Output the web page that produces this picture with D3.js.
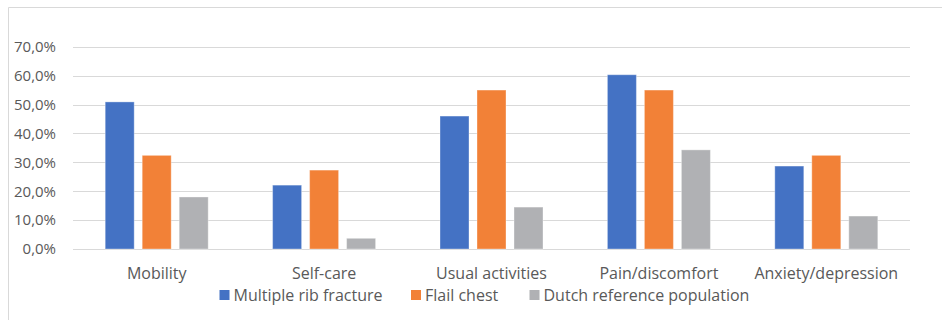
<!DOCTYPE html>
<html>
<head>
<meta charset="utf-8">
<script src="https://cdn.jsdelivr.net/npm/d3@7"></script>
<style>
  html, body { margin: 0; padding: 0; background: #fff; }
  svg { display: block; font-family: "Open Sans", sans-serif; }
</style>
</head>
<body>
<svg id="chart" width="942" height="320"></svg>
<script>
// EQ-5D dimensions: share of respondents reporting problems
const categories = ["Mobility", "Self-care", "Usual activities", "Pain/discomfort", "Anxiety/depression"];
const seriesNames = ["Multiple rib fracture", "Flail chest", "Dutch reference population"];
const multipleRibFracture = [50.9, 22.1, 46.0, 60.3, 28.7];
const flailChest = [32.4, 27.3, 55.0, 55.0, 32.4];
const dutchReference = [18.0, 3.7, 14.5, 34.3, 11.4];
const yTicks = [0, 10, 20, 30, 40, 50, 60, 70];
const colors = ["#4472C4", "#F28137", "#B0B1B4"];

const seriesValues = [multipleRibFracture, flailChest, dutchReference];

const svg = d3.select("#chart");
const W = 942, H = 320;
const plot = { left: 73, right: 910, top: 46.7, bottom: 249 };

// chart frame (only top and left edges fall inside the view)
svg.append("path")
  .attr("d", `M8.5,${H} V7.5 H${W}`)
  .attr("fill", "none")
  .attr("stroke", "#d9d9d9")
  .attr("stroke-width", 1);

const x0 = d3.scaleBand()
  .domain(categories)
  .range([plot.left, plot.right])
  .paddingInner(0)
  .paddingOuter(0);

const barW = 29, gap = 8;
const groupW = barW * 3 + gap * 2;
const x1 = d3.scaleBand()
  .domain(seriesNames)
  .range([0, groupW])
  .paddingInner(gap / (barW + gap))
  .paddingOuter(0);

const y = d3.scaleLinear().domain([0, 70]).range([plot.bottom, plot.top]);

// horizontal gridlines
svg.append("g")
  .selectAll("line")
  .data(yTicks)
  .join("line")
  .attr("x1", plot.left)
  .attr("x2", plot.right)
  .attr("y1", d => Math.round(y(d)) + 0.5)
  .attr("y2", d => Math.round(y(d)) + 0.5)
  .attr("stroke", "#d9d9d9")
  .attr("stroke-width", 1.2);

// y axis labels
const fmt = d => d.toFixed(1).replace(".", ",") + "%";
const yAxis = d3.axisLeft(y).tickValues(yTicks).tickFormat(fmt).tickSize(0).tickPadding(0);
const yg = svg.append("g").attr("transform", `translate(56,0)`).call(yAxis);
yg.select(".domain").remove();
yg.selectAll("text")
  .attr("fill", "#595959")
  .attr("font-size", "15px")
  .attr("font-family", "Open Sans, sans-serif");

// bars
const groups = svg.append("g")
  .selectAll("g")
  .data(categories)
  .join("g")
  .attr("transform", c => `translate(${x0(c) + (x0.bandwidth() - groupW) / 2},0)`);

groups.selectAll("rect")
  .data((c, i) => seriesNames.map((s, j) => ({ s, j, v: seriesValues[j][i] })))
  .join("rect")
  .attr("x", d => x1(d.s))
  .attr("width", x1.bandwidth())
  .attr("y", d => y(d.v))
  .attr("height", d => plot.bottom - y(d.v))
  .attr("fill", d => colors[d.j])
  .attr("stroke", "#ffffff")
  .attr("stroke-opacity", 0.35)
  .attr("stroke-width", 1);

// category labels
const xAxis = d3.axisBottom(x0).tickSize(0).tickPadding(0);
const xg = svg.append("g").attr("transform", `translate(0,${plot.bottom})`).call(xAxis);
xg.select(".domain").remove();
xg.selectAll("text")
  .attr("dy", null)
  .attr("y", 29.5)
  .attr("fill", "#595959")
  .attr("font-size", "16px")
  .attr("font-family", "Open Sans, sans-serif");

// legend
const legendX = [219.5, 411, 529.5];
const legend = svg.append("g")
  .selectAll("g")
  .data(seriesNames)
  .join("g")
  .attr("transform", (d, i) => `translate(${legendX[i]},290)`);
legend.append("rect")
  .attr("width", 10).attr("height", 10)
  .attr("fill", (d, i) => colors[i]);
legend.append("text")
  .attr("x", 14)
  .attr("y", 10.5)
  .attr("fill", "#595959")
  .attr("font-size", "16px")
  .text(d => d);
</script>
</body>
</html>
